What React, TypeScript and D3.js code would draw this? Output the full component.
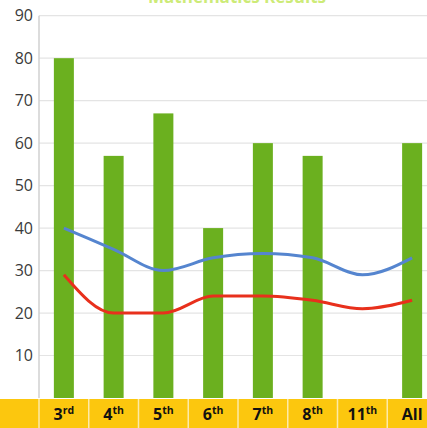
import React, { useRef, useEffect } from "react";
import * as d3 from "d3";

const grades = ["3", "4", "5", "6", "7", "8", "11", "All"];
const suffixes = ["rd", "th", "th", "th", "th", "th", "th", ""];
const barValues = [80, 57, 67, 40, 60, 57, 0, 60];
const blueValues = [40, 35, 30, 33, 34, 33, 29, 33];
const redValues = [29, 20, 20, 24, 24, 23, 21, 23];
const yTicks = [10, 20, 30, 40, 50, 60, 70, 80, 90];
const title = "Mathematics Results";

const App = () => {
  const svgRef = useRef<SVGSVGElement>(null);

  useEffect(() => {
    if (!svgRef.current) return;

    const width = 427;
    const height = 428;
    const left = 39;
    const plotRight = 437;
    const bandTop = 398;

    const svg = d3.select(svgRef.current);
    svg.selectAll("*").remove();

    const x = d3
      .scaleBand()
      .domain(grades)
      .range([left, plotRight])
      .paddingInner(0)
      .paddingOuter(0);

    const y = d3.scaleLinear().domain([0, 90]).range([bandTop, 15.7]);

    svg
      .append("rect")
      .attr("width", width)
      .attr("height", height)
      .attr("fill", "#ffffff");

    // title, mostly cut off at the top like in the source
    svg
      .append("text")
      .attr("x", 237)
      .attr("y", 2.5)
      .attr("text-anchor", "middle")
      .style("font-family", "Open Sans, sans-serif")
      .style("font-size", "17px")
      .style("font-weight", "bold")
      .attr("fill", "#cdeb78")
      .text(title);

    // gridlines
    svg
      .append("g")
      .selectAll("line")
      .data(yTicks)
      .join("line")
      .attr("x1", left)
      .attr("x2", width)
      .attr("y1", (d) => y(d))
      .attr("y2", (d) => y(d))
      .attr("stroke", "#e4e4e4")
      .attr("stroke-width", 1.2);

    // y axis line
    svg
      .append("line")
      .attr("x1", left)
      .attr("x2", left)
      .attr("y1", y(90))
      .attr("y2", bandTop)
      .attr("stroke", "#d0d0d0")
      .attr("stroke-width", 1.5);

    // y tick labels
    svg
      .append("g")
      .selectAll("text")
      .data(yTicks)
      .join("text")
      .attr("x", 33)
      .attr("y", (d) => y(d))
      .attr("dy", "0.35em")
      .attr("text-anchor", "end")
      .style("font-family", "Open Sans, sans-serif")
      .style("font-size", "16px")
      .attr("fill", "#3a3a3a")
      .text((d) => d);

    // bars
    const barW = 20;
    svg
      .append("g")
      .selectAll("rect")
      .data(barValues)
      .join("rect")
      .attr("x", (d, i) => x(grades[i])! + x.bandwidth() / 2 - barW / 2)
      .attr("y", (d) => y(d))
      .attr("width", barW)
      .attr("height", (d) => bandTop - y(d))
      .attr("fill", "#6bb01f");

    // lines
    const line = d3
      .line<number>()
      .x((d, i) => x(grades[i])! + x.bandwidth() / 2)
      .y((d) => y(d))
      .curve(d3.curveMonotoneX);

    svg
      .append("path")
      .datum(blueValues)
      .attr("d", line)
      .attr("fill", "none")
      .attr("stroke", "#5585cf")
      .attr("stroke-width", 3);

    svg
      .append("path")
      .datum(redValues)
      .attr("d", line)
      .attr("fill", "none")
      .attr("stroke", "#e8301c")
      .attr("stroke-width", 3);

    // yellow category band
    svg
      .append("rect")
      .attr("x", 0)
      .attr("y", bandTop + 1)
      .attr("width", width)
      .attr("height", height - bandTop)
      .attr("fill", "#fcc70e");

    svg
      .append("g")
      .selectAll("line")
      .data(grades)
      .join("line")
      .attr("x1", (d) => x(d)!)
      .attr("x2", (d) => x(d)!)
      .attr("y1", bandTop + 1)
      .attr("y2", height)
      .attr("stroke", "#fdeaa8")
      .attr("stroke-width", 1.5);

    const labels = svg
      .append("g")
      .selectAll("text")
      .data(grades)
      .join("text")
      .attr("x", (d) => x(d)! + x.bandwidth() / 2)
      .attr("y", 420)
      .attr("text-anchor", "middle")
      .style("font-family", "Open Sans, sans-serif")
      .style("font-weight", "bold")
      .style("font-size", "16px")
      .attr("fill", "#111111");

    labels.append("tspan").text((d) => d);
    labels
      .append("tspan")
      .attr("dy", -6)
      .style("font-size", "10.5px")
      .text((d, i) => suffixes[i]);
  }, []);

  return (
    <svg
      ref={svgRef}
      width={427}
      height={428}
      style={{ position: "absolute", left: 0, top: 0 }}
    ></svg>
  );
};

export default App;
